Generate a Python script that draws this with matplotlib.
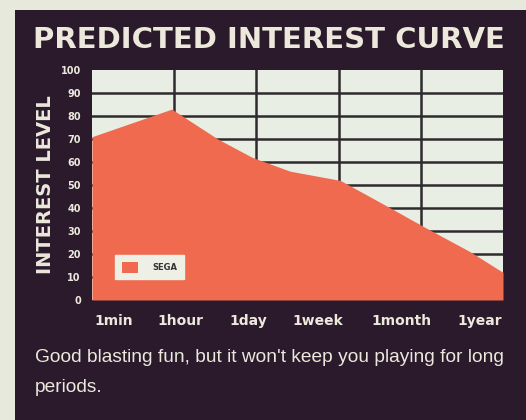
import matplotlib
matplotlib.use('Agg')
import matplotlib.pyplot as plt
from matplotlib.patches import Patch

# data
curve_x = [0, 0.97, 1.53, 1.95, 2.41, 3.02, 3.63, 4.03, 4.6, 5]
curve_y = [71, 83, 70, 62, 56, 52, 40, 32, 21, 12]
time_labels = ['1min', '1hour', '1day', '1week', '1month', '1year']
label_pos = [0.26, 1.07, 1.9, 2.75, 3.77, 4.72]
y_ticks = [0, 10, 20, 30, 40, 50, 60, 70, 80, 90, 100]

dark = '#2a1a2c'
light_txt = '#ece9dc'
fill_col = '#ef6a4e'
grid_col = '#2e2a2e'

fig = plt.figure(figsize=(5.26, 4.20), dpi=100, facecolor='#e6e9dc')

# dark magazine panel behind everything
bg = fig.add_axes([15/526, 0, 1 - 15/526, (420-10)/420], zorder=-1)
bg.set_facecolor(dark)
bg.set_xticks([])
bg.set_yticks([])
for s in bg.spines.values():
    s.set_visible(False)

ax = fig.add_axes([92/526, 120/420, 411/526, 230/420])
ax.set_facecolor('#e9eee4')
ax.set_xlim(0, 5)
ax.set_ylim(0, 100)

# grid
for v in range(10, 100, 10):
    ax.axhline(v, color=grid_col, lw=1.8, zorder=1)
for v in range(1, 5):
    ax.axvline(v, color=grid_col, lw=1.8, zorder=1)

ax.fill_between(curve_x, curve_y, 0, color=fill_col, lw=0, zorder=2, label='SEGA')

for s in ax.spines.values():
    s.set_visible(False)

ax.set_yticks(y_ticks)
ax.set_yticklabels([str(v) for v in y_ticks], fontsize=7, fontweight='bold', color=light_txt)
ax.set_xticks(label_pos)
ax.set_xticklabels(time_labels, fontsize=10, fontweight='bold', color=light_txt)
ax.tick_params(axis='x', length=0, pad=10)
ax.tick_params(axis='y', length=0, pad=8)

ax.set_ylabel('INTEREST LEVEL', fontsize=14, fontweight='bold', color=light_txt, labelpad=4)

leg = ax.legend(handles=[Patch(facecolor=fill_col, edgecolor='none', label='SEGA')],
                loc='lower left', bbox_to_anchor=(0.056, 0.09), fontsize=6, frameon=True,
                fancybox=False, framealpha=1, facecolor='#eef0e6', edgecolor='#eef0e6',
                handlelength=2.0, handleheight=1.6, borderpad=0.8, handletextpad=1.7,
                borderaxespad=0)
for t in leg.get_texts():
    t.set_fontweight('bold')
    t.set_color('#333333')

fig.text(269/526, 1 - 40/420, 'PREDICTED INTEREST CURVE', ha='center', va='center',
         fontsize=21, fontweight='bold', color=light_txt)

fig.text(35/526, 1 - 358/420, "Good blasting fun, but it won't keep you playing for long",
         ha='left', va='center', fontsize=13.8, color=light_txt, family='Liberation Sans')
fig.text(35/526, 1 - 388/420, "periods.",
         ha='left', va='center', fontsize=13.8, color=light_txt, family='Liberation Sans')

fig.savefig('out.png', dpi=100, facecolor=fig.get_facecolor())
